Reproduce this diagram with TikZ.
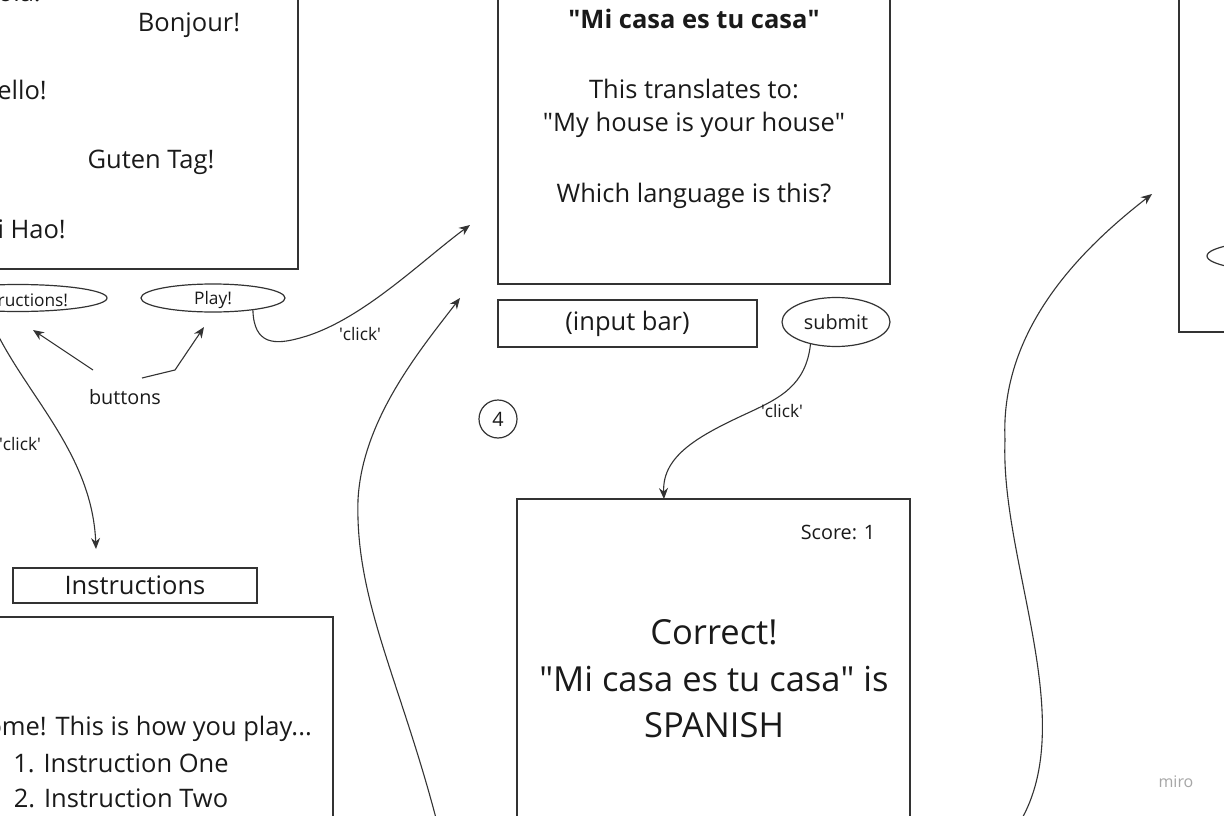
\documentclass[tikz,border=0pt]{standalone}
\usepackage{fontspec}
\setmainfont{Open Sans}
\usetikzlibrary{shapes.geometric,arrows.meta}
\definecolor{linec}{HTML}{333333}
\definecolor{textc}{HTML}{1A1A1A}
\newcommand{\sq}{\textquotesingle}
\newcommand{\dq}{\textquotedbl}
\tikzset{
  box/.style={draw=linec, line width=1.4pt, rectangle, inner sep=0pt},
  oval/.style={draw=linec, line width=1.2pt, ellipse, inner sep=0pt},
  big/.style={text=textc, inner sep=0pt, font=\fontsize{25.5}{30}\selectfont},
  huge/.style={text=textc, inner sep=0pt, font=\fontsize{34.5}{40}\selectfont},
  small/.style={text=textc, inner sep=0pt, font=\fontsize{19.8}{24}\selectfont},
  tiny/.style={text=textc, inner sep=0pt, font=\fontsize{17.3}{22}\selectfont},
  conn/.style={draw=linec, line width=1.1pt, -{Stealth[length=11pt,width=9pt]}},
}
\begin{document}
\begin{tikzpicture}[x=1pt,y=-1pt]
\useasboundingbox (0,0) rectangle (1224,816);
\clip (0,0) rectangle (1224,816);
\fill[white] (0,0) rectangle (1224,816);

% top-left screen
\node[box, minimum width=338pt, minimum height=309pt] (greet) at (129,114.5) {};
\node[big, anchor=base east] (hola) at (41,2) {Hola!};
\node[big] (bonjour) at (189,25) {Bonjour!};
\node[big, anchor=east] (hello) at (47,90) {Hello!};
\node[big] (guten) at (151,162) {Guten Tag!};
\node[big, anchor=east] (nihao) at (66,229) {Ni Hao!};

% buttons
\node[oval, minimum width=178pt, minimum height=27pt] (instbtn) at (18,298) {};
\node[tiny] at (18,300) (instbtntxt) {Instructions!};
\node[oval, minimum width=144pt, minimum height=28pt] (play) at (213,298) {};
\node[tiny] (playtxt) at (213,300) {Play!};
\node[small] (buttons) at (125,397) {buttons};
\coordinate (b1) at (93,370);
\coordinate (b1e) at (33,330);
\coordinate (b2) at (142,378);
\coordinate (b2m) at (175,370);
\coordinate (b2e) at (204,327);
\draw[conn] (b1) -- (b1e);
\draw[conn] (b2) -- (b2m) -- (b2e);

% instructions
\node[box, minimum width=244pt, minimum height=35pt] (insthead) at (135,585.5) {};
\node[big] (instheadtxt) at (135,585) {Instructions};
\node[box, minimum width=363pt, minimum height=233pt] (instbody) at (151.5,733.5) {};
\node[big, anchor=east] (welcome) at (312,729) {Welcome! This is how you play...};
\node[big] (i1) at (121,763) {1. Instruction One};
\node[big] (i2) at (121,798) {2. Instruction Two};

% instructions click
\coordinate (ic0) at (-10,318);
\coordinate (ic1) at (96,549);
\draw[conn] (ic0) .. controls (20,390) and (92,450) .. (ic1);
\node[tiny] (click1) at (20,444) {\sq click\sq};

% play click
\coordinate (pc1) at (470,225);
\draw[conn] (play.-17) .. controls (254,345) and (275,345) .. (300,338) .. controls (360,322) and (420,262) .. (pc1);
\node[tiny] (click2) at (360,334) {\sq click\sq};

% question screen
\node[box, minimum width=392pt, minimum height=304pt] (quest) at (694,132) {};
\node[big, font=\fontsize{25.5}{30}\selectfont\bfseries] (title) at (694,19) {\dq Mi casa es tu casa\dq};
\node[big] (q1) at (694,89) {This translates to:};
\node[big] (q2) at (694,125) {\dq My house is your house\dq};
\node[big] (q3) at (694,196) {Which language is this?};

\node[box, minimum width=259pt, minimum height=47pt] (input) at (627.5,323.5) {};
\node[big] (inputtxt) at (627.5,324) {(input bar)};
\node[oval, minimum width=108pt, minimum height=49pt] (submit) at (836,322) {};
\node[small] (submittxt) at (836,322) {submit};

\node[draw=linec, line width=1.2pt, circle, minimum size=38pt, inner sep=0pt] (four) at (498,419) {};
\node[small] (fourtxt) at (498,419) {4};

% submit click
\coordinate (sc1) at (664,499);
\draw[conn] (submit.-139) .. controls (806,385) and (780,398) .. (750,412) .. controls (700,435) and (662,455) .. (sc1);
\node[tiny] (click3) at (782,411) {\sq click\sq};

% result screen
\node[box, minimum width=393pt, minimum height=331pt] (result) at (713.5,664.5) {};
\node[small] (score) at (838,532) {Score: 1};
\node[huge] (r1) at (714,632) {Correct!};
\node[huge] (r2) at (714,679) {\dq Mi casa es tu casa\dq{} is};
\node[huge] (r3) at (714,725) {SPANISH};

% long curve middle
\coordinate (m0) at (437,822);
\coordinate (m1) at (460,298);
\draw[conn] (m0) .. controls (400,680) and (355,600) .. (358,500) .. controls (362,420) and (420,350) .. (m1);

% right side
\node[box, minimum width=80pt, minimum height=362pt] (rscreen) at (1219,151) {};
\node[oval, minimum width=170pt, minimum height=32pt] (roval) at (1292,256) {};
\coordinate (r0) at (1020,822);
\coordinate (r1) at (1152,194);
\draw[conn] (r0) .. controls (1080,720) and (1000,560) .. (1005,440) .. controls (1000,330) and (1080,250) .. (r1);

\node[text=black!35, inner sep=0pt, font=\fontsize{16}{20}\selectfont] (miro) at (1176,782) {miro};
\end{tikzpicture}
\end{document}
